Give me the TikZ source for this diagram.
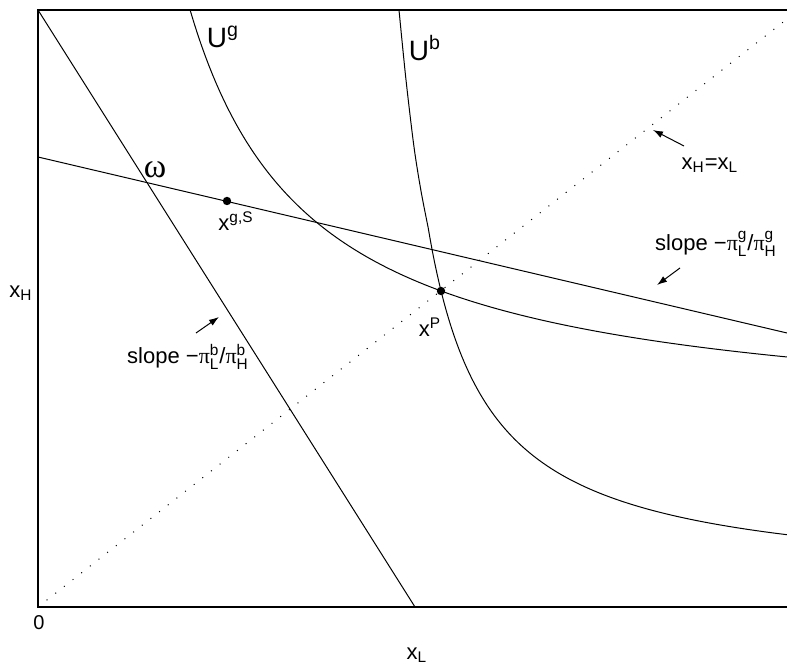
\documentclass[tikz,border=0pt]{standalone}
\usepackage{amsmath}
\usepackage{fontspec}
\setmainfont{Liberation Sans}
\newfontfamily\grk{Liberation Serif}
\usetikzlibrary{arrows.meta}

\newcommand{\up}[1]{\text{#1}}
\newcommand{\gpi}{\text{\grk π}}

\begin{document}
\begin{tikzpicture}[
  x=0.5pt, y=0.5pt,
  frame/.style={line width=0.9pt},
  curve/.style={line width=0.5pt},
  pointer/.style={-{Latex[length=5pt,width=3.4pt]}, line width=0.5pt},
  dot/.style={circle, fill, inner sep=0pt, minimum size=4.2pt},
  every node/.style={font=\fontsize{11}{13}\selectfont, inner sep=0pt}
]
\useasboundingbox (-38,-61) rectangle (749,607);

\coordinate (origin) at (0,0);
\coordinate (topleft) at (0,597);
\coordinate (topright) at (749,597);
\coordinate (botright) at (749,0);
\coordinate (diagend) at (749,588);
\coordinate (budb-bot) at (377,0);
\coordinate (budg-left) at (0,450);
\coordinate (budg-right) at (749,274);

% axes
\draw[frame] (botright) -- (origin) -- (topleft) -- (topright);
\draw[line width=0.5pt, dash pattern=on 0.5pt off 5pt] (origin) -- (diagend);

% budget lines
\draw[curve] (topleft) -- (budb-bot);
\draw[curve] (budg-left) -- (budg-right);

% indifference curves
\draw[curve] plot[domain=152.2:749, samples=160]
  (\x, {178.7 + 512.95/((\x-29.4)*0.01)});
\draw[curve] plot[smooth] coordinates {(361,597) (368,527) (376,460) (383,416) (390,380.1)}
  -- plot[domain=390:749, samples=160] (\x, {20.9 + 215.13/((\x-330.1)*0.01)});

\node[dot] (xgS) at (189,406) {};
\node[dot] (xP) at (403,316) {};

\node (omega) at (117,437) {\fontsize{17}{17}\selectfont\grk ω};
\node (lab-xgS) at (198,386) {$\up{x}^{\up{g,S}}$};
\node (lab-xP) at (392,280) {$\up{x}^{\up{P}}$};
\node (lab-Ug) at (185,570) {\fontsize{14}{14}\selectfont$\up{U}^{\up{g}}$};
\node (lab-Ub) at (387,559) {\fontsize{14}{14}\selectfont$\up{U}^{\up{b}}$};
\node (lab-diag) at (672,442) {$\up{x}_{\up{H}}\up{=}\up{x}_{\up{L}}$};
\node (lab-slopeg) at (678,363) {slope −$\gpi^{\up{g}}_{\up{L}}$/$\gpi^{\up{g}}_{\up{H}}$};
\node (lab-slopeb) at (150,250) {slope −$\gpi^{\up{b}}_{\up{L}}$/$\gpi^{\up{b}}_{\up{H}}$};
\node (lab-xH) at (-17,314) {$\up{x}_{\up{H}}$};
\node (lab-xL) at (379,-48) {$\up{x}_{\up{L}}$};
\node (lab-zero) at (1,-16) {\fontsize{10}{10}\selectfont 0};

\coordinate (diag-tail) at (646,461);
\coordinate (diag-tip) at (615,477);
\coordinate (g-tail) at (642,339);
\coordinate (g-tip) at (619,322);
\coordinate (b-tail) at (158,274);
\coordinate (b-tip) at (181,290);
\draw[pointer] (diag-tail) -- (diag-tip);
\draw[pointer] (g-tail) -- (g-tip);
\draw[pointer] (b-tail) -- (b-tip);

\end{tikzpicture}
\end{document}
